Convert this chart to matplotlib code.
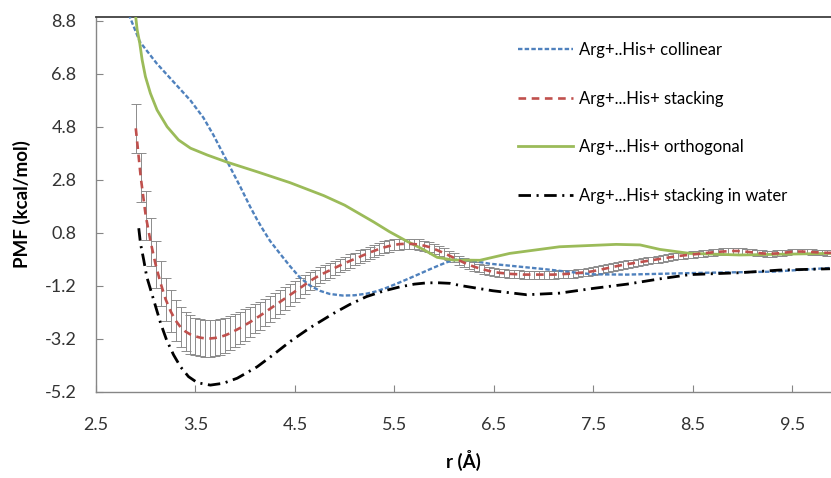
import matplotlib
matplotlib.use("Agg")
import numpy as np
import matplotlib.pyplot as plt

plt.rcParams["font.family"] = ["Lato", "DejaVu Sans"]
plt.rcParams["lines.scale_dashes"] = False

# --- data ---
collinear_r = [2.83, 2.94, 3.11, 3.28, 3.45, 3.58, 3.68, 3.82, 3.95, 4.05, 4.12, 4.18,
               4.25, 4.35, 4.45, 4.55, 4.65, 4.75, 4.85, 4.98, 5.10, 5.22, 5.32, 5.42,
               5.55, 5.65, 5.73, 5.85, 5.95, 6.03, 6.10, 6.16, 6.30, 6.46, 7.00, 7.26,
               7.50, 7.84, 8.17, 8.64, 9.30, 9.88]
collinear_pmf = [9.05, 8.02, 7.20, 6.50, 5.80, 5.15, 4.50, 3.49, 2.55, 1.79, 1.30, 0.92,
                 0.50, 0.02, -0.45, -0.88, -1.18, -1.38, -1.50, -1.56, -1.55, -1.49, -1.40, -1.27,
                 -1.07, -0.91, -0.78, -0.58, -0.42, -0.30, -0.22, -0.19, -0.26, -0.36, -0.56, -0.67,
                 -0.76, -0.77, -0.74, -0.70, -0.66, -0.52]

orthogonal_r = [2.897, 2.914, 2.94, 2.964, 2.997, 3.047, 3.114, 3.215, 3.33, 3.45, 3.62, 3.82,
                4.12, 4.45, 4.79, 5.00, 5.29, 5.45, 5.62, 5.79, 5.93, 6.09, 6.36, 6.66,
                7.16, 7.73, 7.97, 8.17, 8.47, 8.97, 9.88]
orthogonal_pmf = [9.03, 8.46, 7.96, 7.33, 6.70, 6.07, 5.44, 4.81, 4.31, 4.00, 3.74, 3.47,
                  3.11, 2.70, 2.21, 1.85, 1.22, 0.85, 0.50, 0.18, -0.12, -0.22, -0.23, 0.03,
                  0.28, 0.37, 0.35, 0.18, 0.03, -0.03, 0.03]

water_r = [2.93, 2.947, 2.98, 3.01, 3.05, 3.10, 3.15, 3.21, 3.28, 3.35, 3.43, 3.52,
           3.65, 3.78, 3.92, 4.12, 4.28, 4.45, 4.65, 4.89, 5.05, 5.22, 5.40, 5.56,
           5.70, 5.83, 5.95, 6.06, 6.16, 6.49, 6.83, 7.16, 7.50, 7.84, 8.17, 8.47,
           8.97, 9.37, 9.88]
water_pmf = [0.98, 0.41, -0.22, -0.85, -1.35, -1.98, -2.61, -3.24, -3.80, -4.25, -4.62, -4.85,
             -4.94, -4.87, -4.68, -4.25, -3.80, -3.30, -2.78, -2.23, -1.90, -1.60, -1.38, -1.23,
             -1.13, -1.08, -1.08, -1.10, -1.18, -1.38, -1.53, -1.47, -1.29, -1.13, -0.93, -0.77,
             -0.70, -0.60, -0.55]

# stacking: sampled every 0.05 A from 2.90 to 9.90
stacking_r = np.round(np.arange(2.90, 9.901, 0.05), 2)
stacking_pmf = [
    4.75, 2.90, 1.45, 0.45, -0.40, -1.10, -1.70, -2.15, -2.50, -2.75,
    -2.92, -3.03, -3.10, -3.15, -3.18, -3.18, -3.16, -3.12, -3.06, -2.98,
    -2.88, -2.78, -2.67, -2.56, -2.44, -2.32, -2.19, -2.06, -1.93, -1.80,
    -1.67, -1.54, -1.41, -1.28, -1.15, -1.02, -0.90, -0.80, -0.70, -0.61,
    -0.52, -0.43, -0.34, -0.26, -0.18, -0.10, -0.02, 0.06, 0.13, 0.20,
    0.26, 0.31, 0.35, 0.38, 0.39, 0.39, 0.38, 0.36, 0.32, 0.27,
    0.20, 0.12, 0.04, -0.05, -0.14, -0.23, -0.32, -0.40, -0.47, -0.53,
    -0.58, -0.63, -0.67, -0.70, -0.72, -0.74, -0.75, -0.76, -0.77, -0.77,
    -0.77, -0.77, -0.77, -0.77, -0.77, -0.76, -0.75, -0.74, -0.73, -0.71,
    -0.69, -0.67, -0.64, -0.60, -0.56, -0.52, -0.48, -0.44, -0.40, -0.37,
    -0.34, -0.31, -0.28, -0.25, -0.22, -0.19, -0.16, -0.13, -0.10, -0.07,
    -0.05, -0.03, -0.01, 0.01, 0.03, 0.05, 0.07, 0.09, 0.10, 0.11,
    0.12, 0.12, 0.11, 0.09, 0.07, 0.05, 0.03, 0.02, 0.02, 0.03,
    0.05, 0.07, 0.09, 0.10, 0.10, 0.09, 0.08, 0.07, 0.06, 0.05,
    0.05,
]
stacking_err = [
    0.92, 0.92, 0.92, 0.90, 0.88, 0.85, 0.82, 0.80, 0.77, 0.75,
    0.73, 0.72, 0.71, 0.70, 0.70, 0.70, 0.69, 0.68, 0.67, 0.65,
    0.63, 0.61, 0.59, 0.57, 0.55, 0.53, 0.51, 0.49, 0.47, 0.45,
    0.43, 0.41, 0.39, 0.37, 0.35, 0.33, 0.31, 0.30, 0.29, 0.28,
    0.27, 0.26, 0.25, 0.25, 0.24, 0.24, 0.23, 0.23, 0.22, 0.22,
    0.22, 0.21, 0.21, 0.21, 0.20, 0.20, 0.20, 0.20, 0.19, 0.19,
    0.19, 0.18, 0.18, 0.18, 0.17, 0.17, 0.17, 0.16, 0.16, 0.16,
    0.16, 0.15, 0.15, 0.15, 0.15, 0.15, 0.15, 0.15, 0.15, 0.15,
    0.15, 0.15, 0.15, 0.15, 0.15, 0.15, 0.15, 0.15, 0.15, 0.15,
    0.14, 0.14, 0.14, 0.14, 0.14, 0.14, 0.14, 0.14, 0.14, 0.14,
    0.13, 0.13, 0.13, 0.13, 0.13, 0.13, 0.13, 0.13, 0.13, 0.13,
    0.12, 0.12, 0.12, 0.12, 0.12, 0.12, 0.12, 0.12, 0.12, 0.12,
    0.11, 0.11, 0.11, 0.11, 0.11, 0.11, 0.11, 0.11, 0.11, 0.11,
    0.10, 0.10, 0.10, 0.10, 0.10, 0.10, 0.10, 0.10, 0.10, 0.10,
    0.10,
]

labels = ["Arg+..His+ collinear", "Arg+...His+ stacking",
          "Arg+...His+ orthogonal", "Arg+...His+ stacking in water"]
x_ticks = [2.5, 3.5, 4.5, 5.5, 6.5, 7.5, 8.5, 9.5]
y_ticks = [-5.2, -3.2, -1.2, 0.8, 2.8, 4.8, 6.8, 8.8]

fig = plt.figure(figsize=(8.31, 4.78), dpi=100)
ax = fig.add_axes([96 / 831, (478 - 392) / 478, 735 / 831, 375 / 478])

ax.errorbar(stacking_r, stacking_pmf, yerr=stacking_err, fmt="none",
            ecolor="#8c8c8c", elinewidth=0.7, capsize=3.5, capthick=0.7, zorder=2)
ax.plot(collinear_r, collinear_pmf, color="#4F81BD", lw=1.7, dashes=(3.2, 1.6),
        label=labels[0], zorder=3)
ax.plot(stacking_r, stacking_pmf, color="#C0504D", lw=1.9, dashes=(5.5, 4),
        label=labels[1], zorder=4)
ax.plot(orthogonal_r, orthogonal_pmf, color="#9BBB59", lw=2.0, label=labels[2], zorder=3)
ax.plot(water_r, water_pmf, color="black", lw=2.0, dashes=(9, 4, 1.5, 4),
        label=labels[3], zorder=3)

ax.set_xlim(2.5, 9.89)
ax.set_ylim(-5.2, 8.95)
ax.set_xticks(x_ticks)
ax.set_xticklabels([f"{v:.1f}" for v in x_ticks])
ax.set_yticks(y_ticks)
ax.set_yticklabels([f"{v:.1f}" for v in y_ticks])
ax.tick_params(direction="in", length=5, width=0.8, color="#868686",
               labelsize=13, labelcolor="#333333")
ax.tick_params(axis="x", pad=18)
ax.tick_params(axis="y", pad=14)

for side in ["left", "bottom"]:
    ax.spines[side].set_color("#868686")
    ax.spines[side].set_linewidth(1.0)
ax.spines["top"].set_color("#404040")
ax.spines["top"].set_linewidth(1.3)
ax.spines["right"].set_visible(False)

ax.set_xlabel("r (Å)", fontsize=13.5, fontweight="bold", labelpad=12)
ax.set_ylabel("PMF (kcal/mol)", fontsize=13.5, fontweight="bold", labelpad=10)

ax.legend(loc="upper left", bbox_to_anchor=(0.574, 0.933), frameon=False,
          fontsize=12, handlelength=3.3, handletextpad=0.35, labelspacing=1.95,
          borderpad=0, borderaxespad=0)

fig.savefig("out.png", dpi=100)
